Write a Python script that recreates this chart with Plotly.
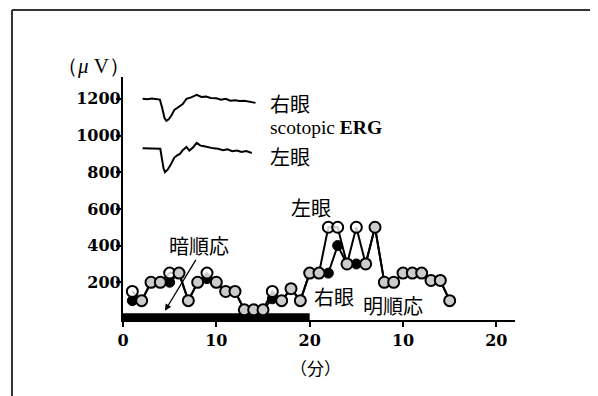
import plotly.graph_objects as go

# ---- data ----
# time axis in minutes: 0-20 dark adaptation, 20-42 light adaptation (relabelled 0,10,20)
time_min = list(range(1, 36))
left_eye_uv = [150, 100, 200, 200, 250, 250, 100, 200, 250, 200, 150, 150, 50, 50, 50,
               150, 100, 165, 100, 250, 250, 500, 500, 300, 500, 300, 500, 200, 200,
               250, 250, 250, 210, 210, 100]
right_eye_uv = [100, 100, 200, 200, 200, 250, 100, 200, 220, 200, 150, 150, 50, 50, 50,
                110, 100, 165, 100, 250, 250, 250, 400, 300, 300, 300, 500, 200, 200,
                250, 250, 250, 210, 210, 100]

x_tick_vals = [0, 10, 20, 30, 40]
x_tick_text = ["0", "10", "20", "10", "20"]
y_tick_vals = [200, 400, 600, 800, 1000, 1200]

dark_period = [0, 20]
dark_bar_level = [11, 11]

# scotopic ERG waveform insets (drawn in axis units)
erg_right_t = [2.1, 2.6, 3.1, 3.6, 3.95, 4.2, 4.45, 4.65, 4.9, 5.2, 5.5, 5.8, 6.1, 6.4,
               6.8, 7.3, 7.9, 8.4, 8.9, 9.4, 10.0, 10.5, 11.0, 11.5, 12.0, 12.5, 13.0,
               13.5, 14.2]
erg_right_uv = [1200, 1198, 1202, 1200, 1196, 1150, 1095, 1080, 1088, 1110, 1140, 1150,
                1160, 1172, 1200, 1208, 1222, 1210, 1212, 1205, 1203, 1195, 1200, 1190,
                1192, 1188, 1190, 1185, 1178]
erg_left_t = [2.1, 2.6, 3.1, 3.6, 4.0, 4.15, 4.35, 4.5, 4.8, 5.1, 5.5, 5.8, 6.1, 6.4,
              6.8, 7.1, 7.5, 7.9, 8.3, 8.7, 9.2, 9.7, 10.2, 10.7, 11.2, 11.7, 12.2,
              12.7, 13.2, 13.8]
erg_left_uv = [930, 930, 928, 930, 928, 880, 820, 800, 815, 840, 880, 892, 900, 920,
               938, 918, 935, 960, 945, 942, 935, 930, 928, 920, 925, 915, 918, 910,
               915, 905]

# ---- figure ----
fig = go.Figure()

fig.add_trace(go.Scatter(x=erg_right_t, y=erg_right_uv, mode="lines",
                         line=dict(color="black", width=2), hoverinfo="skip"))
fig.add_trace(go.Scatter(x=erg_left_t, y=erg_left_uv, mode="lines",
                         line=dict(color="black", width=2), hoverinfo="skip"))

fig.add_trace(go.Scatter(x=dark_period, y=dark_bar_level, mode="lines",
                         line=dict(color="black", width=7.5), hoverinfo="skip"))

fig.add_trace(go.Scatter(x=time_min, y=right_eye_uv, mode="lines+markers",
                         line=dict(color="black", width=2),
                         marker=dict(symbol="circle", size=10, color="black",
                                     line=dict(color="black", width=1))))
fig.add_trace(go.Scatter(x=time_min, y=left_eye_uv, mode="lines+markers",
                         line=dict(color="black", width=2),
                         marker=dict(symbol="circle", size=11,
                                     color="rgba(255,255,255,0.8)",
                                     line=dict(color="black", width=2))))

cjk = "Noto Sans CJK JP"
serif = "Liberation Serif"


def label(text, x, y, size=20, family=cjk):
    fig.add_annotation(x=x, y=y, xref="x", yref="y", text=text, showarrow=False,
                       xanchor="left", yanchor="middle",
                       font=dict(family=family, size=size, color="black"))


def plabel(text, x, y, size, family):
    fig.add_annotation(x=x, y=y, xref="paper", yref="paper", text=text, showarrow=False,
                       xanchor="center", yanchor="middle",
                       font=dict(family=family, size=size, color="black"))


label("右眼", 15.55, 1172)
label("scotopic <b>ERG</b>", 15.55, 1046, size=19.5, family=serif)
label("左眼", 15.55, 886)
label("左眼", 17.8, 605)
label("暗順応", 4.75, 403)
label("右眼", 20.3, 125)
label("明順応", 25.55, 76)
plabel("（<i>μ</i> V）", -0.0758, 1.0453, 21, serif)
plabel("（分）", 0.4898, -0.1975, 17, cjk)

fig.add_annotation(x=4.5, y=45, ax=7.9, ay=330, xref="x", yref="y", axref="x", ayref="y",
                   text="", showarrow=True, arrowhead=2, arrowsize=1, arrowwidth=1.3,
                   arrowcolor="black")

# frame (top and left edges of the page border)
fig.add_shape(type="line", xref="paper", yref="paper", x0=-0.2832, x1=1.3, y0=1.2757, y1=1.2757,
              line=dict(color="#333", width=2))
fig.add_shape(type="line", xref="paper", yref="paper", x0=-0.2832, x1=-0.2832, y0=1.2757, y1=-0.4,
              line=dict(color="#333", width=2))

tickfont = dict(family="DejaVu Serif", size=16, color="black", weight="bold")
fig.update_xaxes(range=[0, 42], tickvals=x_tick_vals, ticktext=x_tick_text,
                 ticks="outside", ticklen=5, tickwidth=1.5, tickcolor="black",
                 showline=True, linewidth=1.8, linecolor="black",
                 showgrid=False, zeroline=False, tickfont=tickfont,
                 ticklabelstandoff=0)
fig.update_yaxes(range=[-5.5, 1319], tickvals=y_tick_vals,
                 ticks="outside", ticklen=5, tickwidth=2, tickcolor="black",
                 showline=True, linewidth=2.2, linecolor="black",
                 showgrid=False, zeroline=False, tickfont=tickfont,
                 ticklabelstandoff=-8)

# page body has an 8px margin: shift plot area so it lands where the reference has it
fig.update_layout(width=598, height=396, margin=dict(l=115, r=91, t=69, b=84),
                  paper_bgcolor="white", plot_bgcolor="white", showlegend=False)

fig.write_html("out.html")
